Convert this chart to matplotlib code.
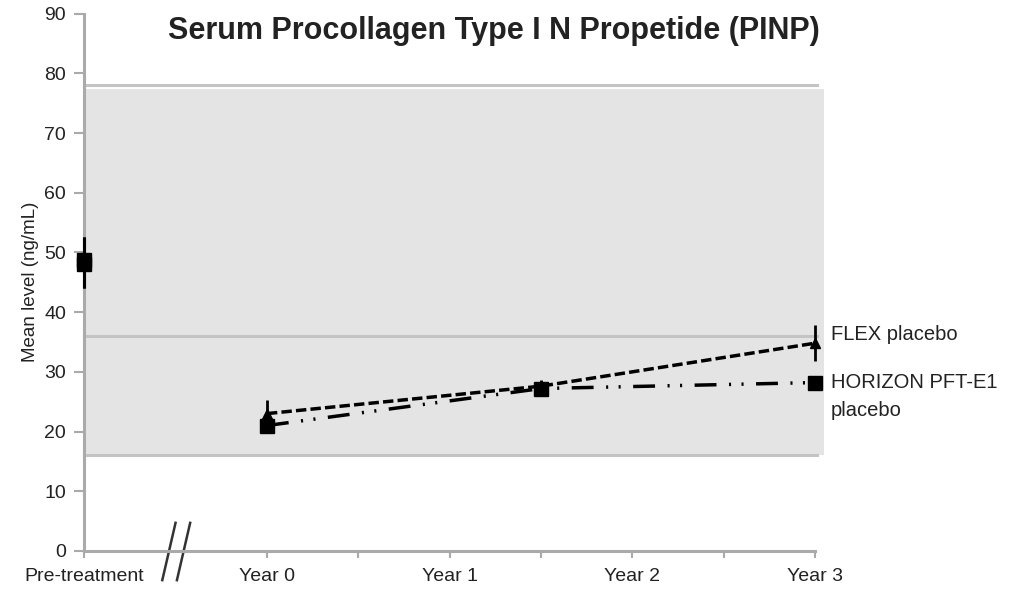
import matplotlib.pyplot as plt
from matplotlib.patches import Rectangle
from matplotlib.lines import Line2D

plt.rcParams['font.family'] = ['Liberation Sans', 'DejaVu Sans']

# x positions in half-year tick units: Pre-treatment=0, Year 0=2 ... Year 3=8
tick_pos = [0, 2, 3, 4, 5, 6, 7, 8]
tick_labels = ['Pre-treatment', 'Year 0', '', 'Year 1', '', 'Year 2', '', 'Year 3']

pre_x = [0, 0]
pre_vals = [48.8, 48.0]
pre_err_lo = [4.8, 4.0]
pre_err_hi = [3.7, 4.5]

flex_x = [2, 5, 8]
flex_vals = [23.0, 27.6, 34.8]
flex_err = [2.3, 1.0, 3.0]

horizon_x = [2, 5, 8]
horizon_vals = [21.0, 27.2, 28.2]
horizon_err = [0.8, 0.8, 0.8]

ref_low, ref_mid, ref_high = 16, 36, 78

fig = plt.figure(figsize=(10.14, 5.93), dpi=100)
ax = fig.add_axes([0.083, 0.071, 0.721, 0.906])

# reference range shading
ax.add_patch(Rectangle((0, ref_low), 8.1, 77.3 - ref_low, facecolor='#e4e4e4',
                       edgecolor='none', clip_on=False, zorder=0))
for yv in [ref_low, ref_mid, ref_high]:
    ax.plot([0, 8.02], [yv, yv], color='#c4c4c4', lw=2.2, clip_on=False, zorder=1)

# pre-treatment points
ax.errorbar(pre_x, pre_vals, yerr=[pre_err_lo, pre_err_hi], fmt='s', color='black',
            ms=10, elinewidth=2.2, capsize=0, zorder=4, clip_on=False)

# FLEX placebo
ax.plot(flex_x, flex_vals, color='black', lw=2.5, dashes=(3, 1.2), zorder=3)
ax.errorbar(flex_x, flex_vals, yerr=flex_err, fmt='^', color='black', ms=7,
            elinewidth=2.0, capsize=0, zorder=4, clip_on=False)

# HORIZON PFT-E1 placebo
ax.plot(horizon_x, horizon_vals, color='black', lw=2.5,
        dashes=(6.3, 3.6, 0.6, 3.0, 0.6, 3.6), zorder=3)
ax.errorbar(horizon_x, horizon_vals, yerr=horizon_err, fmt='s', color='black', ms=10,
            elinewidth=1.5, capsize=0, zorder=4, clip_on=False)

ax.text(8.17, 36.3, 'FLEX placebo', fontsize=14.5, color='#222222', va='center')
ax.text(8.17, 28.2, 'HORIZON PFT-E1', fontsize=14.5, color='#222222', va='center')
ax.text(8.17, 23.6, 'placebo', fontsize=14.5, color='#222222', va='center')

ax.set_xlim(0, 8)
ax.set_ylim(0, 90)
ax.set_yticks(range(0, 91, 10))
ax.set_xticks(tick_pos)
ax.set_xticklabels(tick_labels)
ax.tick_params(axis='x', length=5, width=1.5, color='#aaaaaa', pad=7, labelsize=14,
               labelcolor='#222222')
ax.tick_params(axis='y', length=7, width=1.5, color='#aaaaaa', labelsize=14,
               labelcolor='#222222', pad=6)

for s in ['top', 'right']:
    ax.spines[s].set_visible(False)
for s in ['left', 'bottom']:
    ax.spines[s].set_color('#aaaaaa')
    ax.spines[s].set_linewidth(2.2)

ax.set_ylabel('Mean level (ng/mL)', fontsize=13.5, color='#222222', labelpad=4)

fig.text(0.487, 0.948, 'Serum Procollagen Type I N Propetide (PINP)', fontsize=22,
         fontweight='bold', ha='center', va='center', color='#222222')

# axis break marks
for dx in [0, 0.16]:
    ax.add_line(Line2D([0.855 + dx, 1.0 + dx], [-4.9, 4.7], color='#333333', lw=1.8,
                       clip_on=False))

fig.savefig('out.png', dpi=100)
